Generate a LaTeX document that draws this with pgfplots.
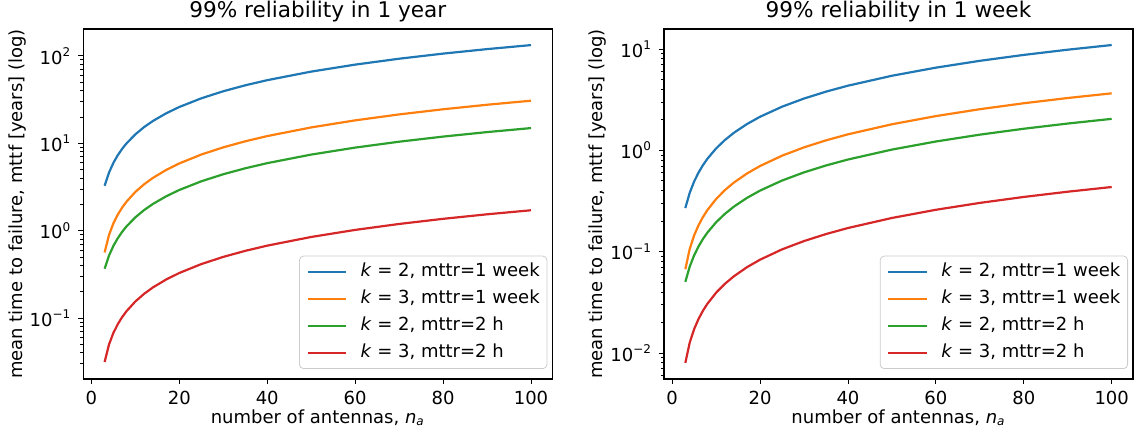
\documentclass[border=0pt]{standalone}
\usepackage{fontspec}
\setmainfont{DejaVu Sans}
\usepackage{pgfplots}
\pgfplotsset{compat=1.18}

\definecolor{tabblue}{HTML}{1F77B4}
\definecolor{taborange}{HTML}{FF7F0E}
\definecolor{tabgreen}{HTML}{2CA02C}
\definecolor{tabred}{HTML}{D62728}
\definecolor{legframe}{HTML}{CCCCCC}

\newcommand{\lblfont}{\fontsize{9}{10.8}\selectfont}

\pgfplotsset{
  mttf/.style={
    scale only axis, width=234.5pt, height=175pt,
    log basis y=10,
    xmin=-1.85, xmax=104.85,
    xtick={0,20,...,100},
    tick align=outside, xtick pos=lower, ytick pos=left,
    major tick length=2.5pt, minor tick length=1.5pt,
    every tick/.style={black, line width=0.45pt},
    axis line style={line width=0.55pt},
    tick label style={font=\lblfont},
    xticklabel style={/pgf/number format/assume math mode=true},
    yticklabel={\pgfmathtruncatemacro\ex{abs(round(\tick))}%
      \pgfmathtruncatemacro\ng{round(\tick)<0}%
      10\textsuperscript{\ifnum\ng=1 −\fi\ex}},
    label style={font=\lblfont},
    title style={font=\fontsize{10.8}{13}\selectfont,
      at={(axis description cs:0.5,1)}, anchor=center, yshift=2.5pt},
    xlabel style={at={(axis description cs:0.5,0)}, anchor=center, yshift=-19.5pt},
    xlabel={number of antennas, \textit{n}\textsubscript{\textit{a}}},
    ylabel={mean time to failure, mttf [years] (log)},
    legend style={draw=legframe, rounded corners=2pt, fill=white,
      at={(axis description cs:1,0)}, anchor=south east,
      xshift=-2.5pt, yshift=5pt, font=\lblfont,
      row sep=4.55pt, inner xsep=3.6pt, inner ysep=3.5pt,
      nodes={inner xsep=0pt, inner ysep=0pt, text height=6.9pt, text depth=2pt},
      /tikz/column 1/.style={column sep=6.7pt}},
    legend cell align=left,
    legend image code/.code={\draw[##1] (0pt,0pt) -- (19.2pt,0pt);},
    every axis plot/.append style={line width=1.1pt},
  }
}

\begin{document}
\begin{tikzpicture}
\path[use as bounding box] (-41.65pt,-29pt) rectangle (527.35pt,189.5pt);

% left: 99% reliability in 1 year
\begin{semilogyaxis}[mttf,
  title={99\% reliability in 1 year},
  ymin=0.0201, ymax=203,
  ylabel style={at={(axis description cs:-0.141,0.5)}, anchor=center},
]
\addplot[tabblue] coordinates {
(3,3.270)(4,4.625)(5,5.970)(6,7.312)(7,8.652)(8,9.990)(10,12.665)(12,15.338)
(14,18.010)(17,22.017)(20,26.024)(25,32.701)(30,39.377)(35,46.052)(40,52.728)
(50,66.079)(60,79.430)(70,92.780)(80,106.13)(90,119.48)(100,132.83)};
\addplot[taborange] coordinates {
(3,0.5633)(4,0.8942)(5,1.2136)(6,1.5290)(7,1.8426)(8,2.1552)(10,2.7785)(12,3.4006)
(14,4.0220)(17,4.9535)(20,5.8846)(25,7.4357)(30,8.9864)(35,10.537)(40,12.087)
(50,15.188)(60,18.288)(70,21.389)(80,24.489)(90,27.589)(100,30.689)};
\addplot[tabgreen] coordinates {
(3,0.3674)(4,0.5196)(5,0.6708)(6,0.8216)(7,0.9721)(8,1.1225)(10,1.4230)(12,1.7234)
(14,2.0236)(17,2.4739)(20,2.9240)(25,3.6742)(30,4.4244)(35,5.1745)(40,5.9245)
(50,7.4246)(60,8.9247)(70,10.425)(80,11.925)(90,13.425)(100,14.925)};
\addplot[tabred] coordinates {
(3,0.03144)(4,0.04990)(5,0.06773)(6,0.08533)(7,0.10283)(8,0.12027)(10,0.15506)(12,0.18977)
(14,0.22445)(17,0.27644)(20,0.32840)(25,0.41496)(30,0.50150)(35,0.58803)(40,0.67455)
(50,0.84758)(60,1.02060)(70,1.19362)(80,1.36663)(90,1.53963)(100,1.71264)};
\legend{\textit{k} = 2{,} mttr=1 week, \textit{k} = 3{,} mttr=1 week,
        \textit{k} = 2{,} mttr=2 h, \textit{k} = 3{,} mttr=2 h}
\end{semilogyaxis}

% right: 99% reliability in 1 week
\begin{semilogyaxis}[mttf, at={(290.35pt,0pt)},
  title={99\% reliability in 1 week},
  ymin=0.00555, ymax=15.8,
  ylabel style={at={(axis description cs:-0.1425,0.5)}, anchor=center},
]
\addplot[tabblue] coordinates {
(3,0.2702)(4,0.3821)(5,0.4933)(6,0.6041)(7,0.7148)(8,0.8254)(10,1.0464)(12,1.2673)
(14,1.4880)(17,1.8191)(20,2.1501)(25,2.7018)(30,3.2534)(35,3.8049)(40,4.3565)
(50,5.4596)(60,6.5626)(70,7.6657)(80,8.7687)(90,9.8717)(100,10.975)};
\addplot[taborange] coordinates {
(3,0.06723)(4,0.10673)(5,0.14485)(6,0.18250)(7,0.21992)(8,0.25723)(10,0.33162)(12,0.40588)
(14,0.48004)(17,0.59123)(20,0.70235)(25,0.88749)(30,1.07257)(35,1.25764)(40,1.44269)
(50,1.81275)(60,2.18279)(70,2.55282)(80,2.92284)(90,3.29286)(100,3.66287)};
\addplot[tabgreen] coordinates {
(3,0.05046)(4,0.07136)(5,0.09213)(6,0.11283)(7,0.13350)(8,0.15416)(10,0.19543)(12,0.23668)
(14,0.27791)(17,0.33974)(20,0.40157)(25,0.50459)(30,0.60761)(35,0.71063)(40,0.81363)
(50,1.01965)(60,1.22566)(70,1.43166)(80,1.63767)(90,1.84367)(100,2.04967)};
\addplot[tabred] coordinates {
(3,0.007995)(4,0.012692)(5,0.017226)(6,0.021703)(7,0.026153)(8,0.030589)(10,0.039436)(12,0.048266)
(14,0.057086)(17,0.070308)(20,0.083523)(25,0.10554)(30,0.12755)(35,0.14956)(40,0.17156)
(50,0.21557)(60,0.25958)(70,0.30358)(80,0.34758)(90,0.39158)(100,0.43559)};
\legend{\textit{k} = 2{,} mttr=1 week, \textit{k} = 3{,} mttr=1 week,
        \textit{k} = 2{,} mttr=2 h, \textit{k} = 3{,} mttr=2 h}
\end{semilogyaxis}
\end{tikzpicture}
\end{document}
